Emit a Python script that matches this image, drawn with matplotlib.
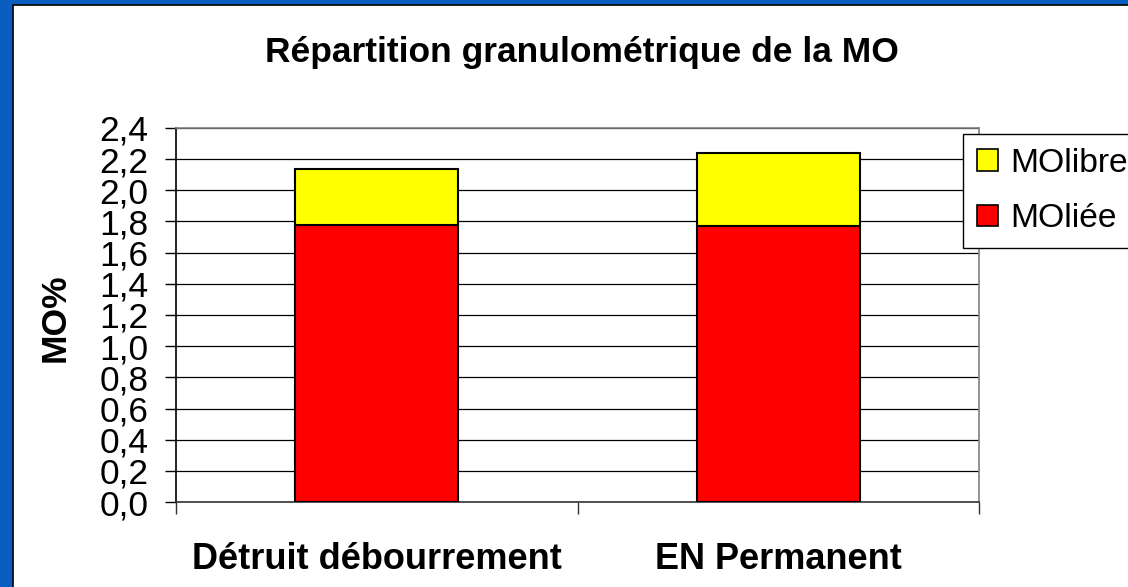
import matplotlib
matplotlib.use("Agg")
import matplotlib.pyplot as plt
from matplotlib.patches import Rectangle, Patch

categories = ["Détruit débourrement", "EN Permanent"]
mo_liee = [1.78, 1.77]
mo_libre = [0.36, 0.47]
series_names = ["MOlibre", "MOliée"]
yticks = [0.0, 0.2, 0.4, 0.6, 0.8, 1.0, 1.2, 1.4, 1.6, 1.8, 2.0, 2.2, 2.4]
ytick_labels = [f"{v:.1f}".replace(".", ",") for v in yticks]
title = "Répartition granulométrique de la MO"
ylabel = "MO%"

plt.rcParams['font.family'] = ['Liberation Sans', 'DejaVu Sans']

W, H = 1128, 587
fig = plt.figure(figsize=(W / 100, H / 100), dpi=100)
fig.patch.set_facecolor("#0A5EC0")

# white slide area (extends past right and bottom edges)
bg = Rectangle((13 / W, -0.05), 1.1, 1.05 - 5 / H, transform=fig.transFigure,
               facecolor="white", edgecolor="black", linewidth=1.2, zorder=-10)
fig.add_artist(bg)

ax = fig.add_axes([176 / W, 1 - 502 / H, (979 - 176) / W, (502 - 128) / H])
ax.set_facecolor("none")
ax.set_zorder(1)

x = list(range(len(categories)))
width = 0.406
ax.bar(x, mo_liee, width, color="#FF0000", edgecolor="black", linewidth=1.5, zorder=3)
ax.bar(x, mo_libre, width, bottom=mo_liee, color="#FFFF00", edgecolor="black",
       linewidth=1.5, zorder=3)

ax.set_xlim(-0.5, len(categories) - 0.5)
ax.set_ylim(0, 2.4)
ax.set_yticks(yticks)
ax.set_yticklabels(ytick_labels, fontsize=25.5)
ax.yaxis.grid(True, color="black", linewidth=0.9, zorder=1)
ax.set_axisbelow(True)

ax.set_xticks(x)
ax.set_xticklabels(categories, fontsize=26, fontweight="bold")
ax.tick_params(axis="x", which="major", length=0, pad=29)
ax.set_xticks([-0.5, 0.5, 1.5], minor=True)
ax.tick_params(axis="x", which="minor", length=8.5, width=1, color="#333333", direction="out")
ax.tick_params(axis="y", length=8, width=1, pad=12, direction="out")

for s in ["top", "right"]:
    ax.spines[s].set_color("#808080")
    ax.spines[s].set_linewidth(1.2)
ax.spines["left"].set_color("black")
ax.spines["bottom"].set_color("#333333")
ax.spines["left"].set_linewidth(1.2)
ax.spines["bottom"].set_linewidth(1.2)

fig.text(582 / W, 1 - 62 / H, title, fontsize=25.5, fontweight="bold",
         ha="center", va="baseline")
fig.text(55 / W, 1 - 318 / H, ylabel, fontsize=25.5, fontweight="bold",
         rotation=90, ha="center", va="center")

handles = [Patch(facecolor="#FFFF00", edgecolor="black", linewidth=1.2),
           Patch(facecolor="#FF0000", edgecolor="black", linewidth=1.2)]
leg = fig.legend(handles, series_names, loc="upper left",
                 bbox_to_anchor=(963 / W, 1 - 134 / H), borderaxespad=0,
                 fontsize=24.2, frameon=True, fancybox=False, shadow=False,
                 handlelength=0.62, handleheight=0.62, handletextpad=0.36,
                 labelspacing=0.72, borderpad=0.42)
leg.get_frame().set_edgecolor("black")
leg.get_frame().set_linewidth(1.0)
leg.get_frame().set_alpha(1)

fig.savefig("out.png", dpi=100, facecolor=fig.get_facecolor())
